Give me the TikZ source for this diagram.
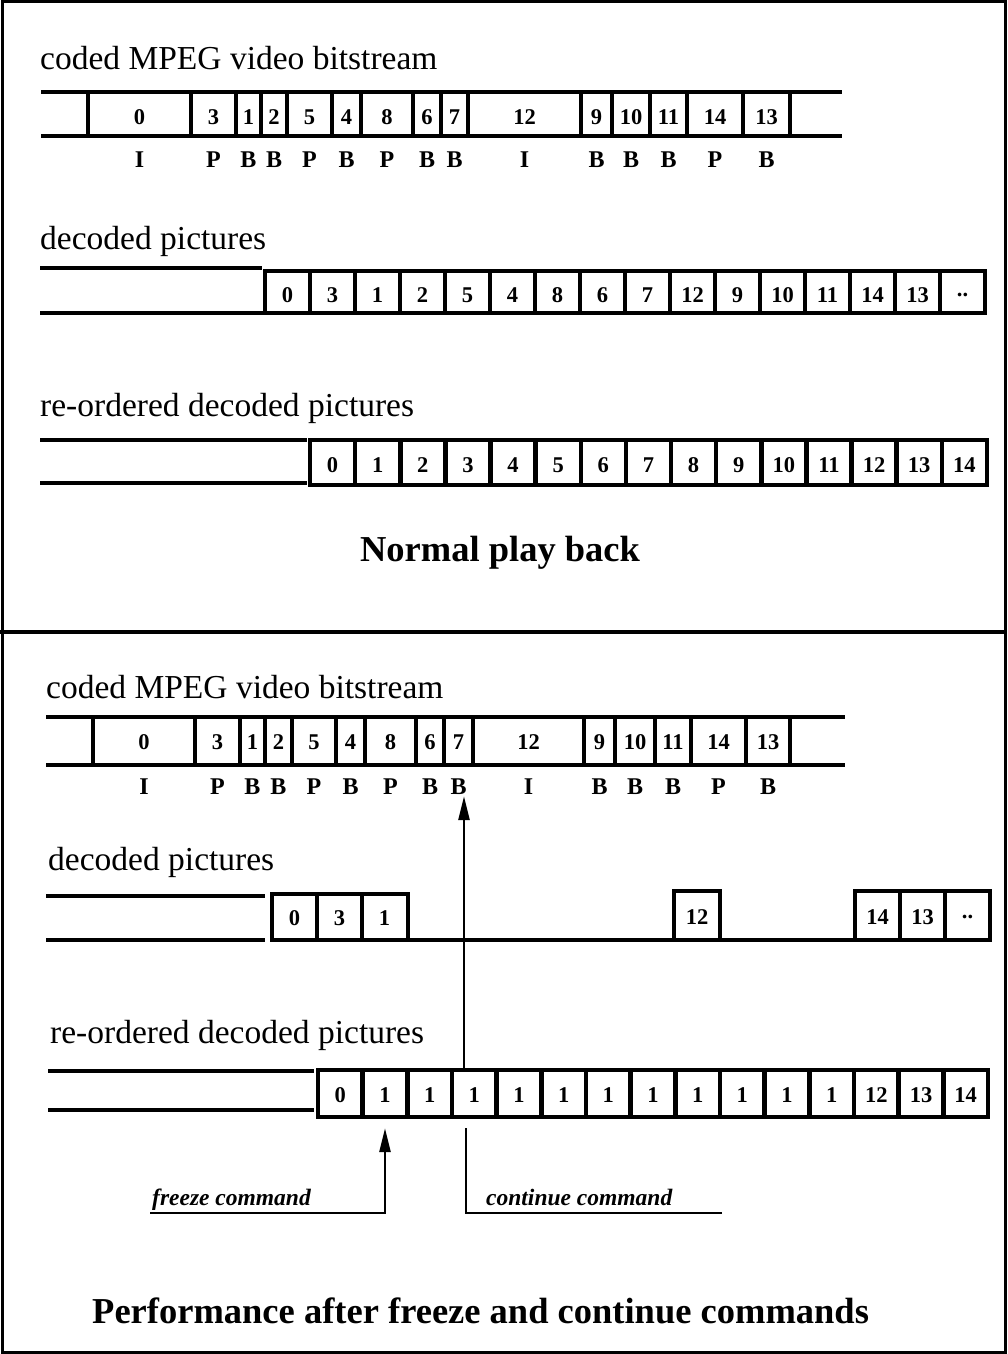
\documentclass[tikz,border=0pt]{standalone}
\usepackage{fontspec}
\setmainfont{Liberation Serif}
\usetikzlibrary{arrows.meta}
\begin{document}
\begin{tikzpicture}[x=1pt,y=-1pt,
  frame/.style={line width=3pt},
  rail/.style={line width=4.5pt,line cap=rect},
  sepbar/.style={line width=4.5pt,line cap=rect},
  lbl/.style={anchor=west,inner sep=0pt,font=\fontsize{33.5}{40}\selectfont},
  title/.style={inner sep=0pt,font=\fontsize{36.5}{44}\selectfont\bfseries},
  num/.style={inner sep=0pt,font=\fontsize{22.5}{26}\selectfont\bfseries},
  typ/.style={inner sep=0pt,font=\fontsize{24}{28}\selectfont\bfseries},
  cell/.style={inner sep=0pt,minimum height=44pt,font=\fontsize{22.5}{26}\selectfont\bfseries},
  cmd/.style={anchor=base west,inner sep=0pt,font=\fontsize{23.5}{28}\selectfont\bfseries\itshape},
  conn/.style={line width=2.5pt},
  arr/.style={line width=2.5pt,-{Triangle[length=24pt,width=11pt]}}]
\useasboundingbox (0,0) rectangle (1007,1354);
\fill[white] (0,0) rectangle (1007,1354);
% frame
\draw[frame] (2,2) rectangle (1005,1352);
\draw[line width=4pt] (0,632) -- (1007,632);

% ===== TOP PANEL =====
\node[lbl] (t1) at (40,58) {coded MPEG video bitstream};
\draw[rail] (43,92) -- (840,92);
\draw[rail] (43,136) -- (840,136);
\foreach \a/\b/\l/\t in {88/191/0/I,191/236/3/P,236/261/1/B,261/287/2/B,287/332/5/P,332/361/4/B,361/413/8/P,413/441/6/B,441/468/7/B,468/581/12/I,581/612/9/B,612/650/10/B,650/687/11/B,687/743/14/P,743/790/13/B}{
  \draw[sepbar] (\a,92) -- (\a,136);
  \node[num] (tc\l) at ({(\a+\b)/2},117) {\l};
  \node[typ] (tt\l) at ({(\a+\b)/2},160) {\t};
}
\draw[sepbar] (790,92) -- (790,136);

\node[lbl] (t2) at (40,241) {decoded pictures};
\draw[rail] (42,268) -- (260,268);
\draw[rail] (42,313) -- (985,313);
\draw[rail] (265,271) -- (985,271);
\foreach \l [count=\i from 0] in {0,3,1,2,5,4,8,6,7,12,9,10,11,14,13}{
  \node[cell,minimum width=45pt] (td\i) at ({265+45*\i+22.5},295) {\l};
  \draw[sepbar] ({265+45*\i},271) -- ({265+45*\i},313);
}
\node[cell,minimum width=45pt] (td15) at (962.5,295) {..};
\draw[sepbar] (940,271) -- (940,313);
\draw[sepbar] (985,271) -- (985,313);

\node[lbl] (t3) at (40,408) {re-ordered decoded pictures};
\draw[rail] (42,440) -- (305,440);
\draw[rail] (42,483) -- (305,483);
\draw[rail] (310,440) -- (987,440);
\draw[rail] (310,485) -- (987,485);
\foreach \l [count=\i from 0] in {0,1,2,3,4,5,6,7,8,9,10,11,12,13,14}{
  \node[cell,minimum width=45pt] (tr\i) at ({310+45.13*\i+22.5},465) {\l};
  \draw[sepbar] ({310+45.13*\i},440) -- ({310+45.13*\i},485);
}
\draw[sepbar] (987,440) -- (987,485);

\node[title] (t4) at (500,553) {Normal play back};

% ===== BOTTOM PANEL =====
\node[lbl] (b1) at (46,687) {coded MPEG video bitstream};
\draw[rail] (48,717) -- (843,717);
\draw[rail] (48,765) -- (843,765);
\foreach \a/\b/\l/\t in {93/195/0/I,195/240/3/P,240/265/1/B,265/292/2/B,292/336/5/P,336/365/4/B,365/416/8/P,416/444/6/B,444/473/7/B,473/584/12/I,584/615/9/B,615/655/10/B,655/691/11/B,691/746/14/P,746/790/13/B}{
  \draw[sepbar] (\a,717) -- (\a,765);
  \node[num] (bc\l) at ({(\a+\b)/2},742) {\l};
  \node[typ] (bb\l) at ({(\a+\b)/2},787) {\t};
}
\draw[sepbar] (790,717) -- (790,765);

\node[lbl] (b2) at (48,862) {decoded pictures};
\draw[rail] (48,896) -- (263,896);
\draw[rail] (48,940) -- (263,940);
\draw[rail] (272,940) -- (990,940);
% group 0 3 1
\draw[rail] (272,894) -- (408,894);
\foreach \x/\l/\n in {272/0/a,317/3/b,362/1/c}{
  \draw[sepbar] (\x,894) -- (\x,940);
  \node[cell,minimum width=45pt] (bd\n) at ({\x+22.5},918) {\l};
}
\draw[sepbar] (408,894) -- (408,940);
% box 12
\draw[rail] (674,891) -- (720,891);
\draw[sepbar] (674,891) -- (674,940);
\draw[sepbar] (720,891) -- (720,940);
\node[cell,minimum width=46pt] (bdd) at (697,917) {12};
% group 14 13 ..
\draw[rail] (855,891) -- (990,891);
\foreach \x/\l/\n in {855/14/e,900/13/f,945/../g}{
  \draw[sepbar] (\x,891) -- (\x,940);
  \node[cell,minimum width=45pt] (bd\n) at ({\x+22.5},917) {\l};
}
\draw[sepbar] (990,891) -- (990,940);

\node[lbl] (b3) at (50,1035) {re-ordered decoded pictures};
\draw[rail] (50,1071) -- (312,1071);
\draw[rail] (50,1110) -- (312,1110);
\draw[rail] (318,1070) -- (988,1070);
\draw[rail] (318,1117) -- (988,1117);
\foreach \l [count=\i from 0] in {0,1,1,1,1,1,1,1,1,1,1,1,12,13,14}{
  \node[cell,minimum width=44pt] (rb\i) at ({318+44.667*\i+22.33},1095) {\l};
  \draw[sepbar] ({318+44.667*\i},1070) -- ({318+44.667*\i},1117);
}
\draw[sepbar] (988,1070) -- (988,1117);

% continue arrow (up to the B of picture 7)
\coordinate (cx) at (464,1068);
\draw[arr,shorten >=1pt] (cx) -- (cx |- bb7.south);

% freeze command
\coordinate (fzL) at (150,1213);
\draw[arr,shorten >=11pt] (fzL) -| (rb1.south);
\node[cmd] (fzT) at (152,1205) {freeze command};

% continue command
\coordinate (ctR) at (722,1213);
\coordinate (ctT) at (466,1128);
\draw[conn] (ctR) -| (ctT);
\node[cmd] (ctX) at (486,1205) {continue command};

\node[title,anchor=west] (b4) at (92,1311) {Performance after freeze and continue commands};
\end{tikzpicture}
\end{document}
